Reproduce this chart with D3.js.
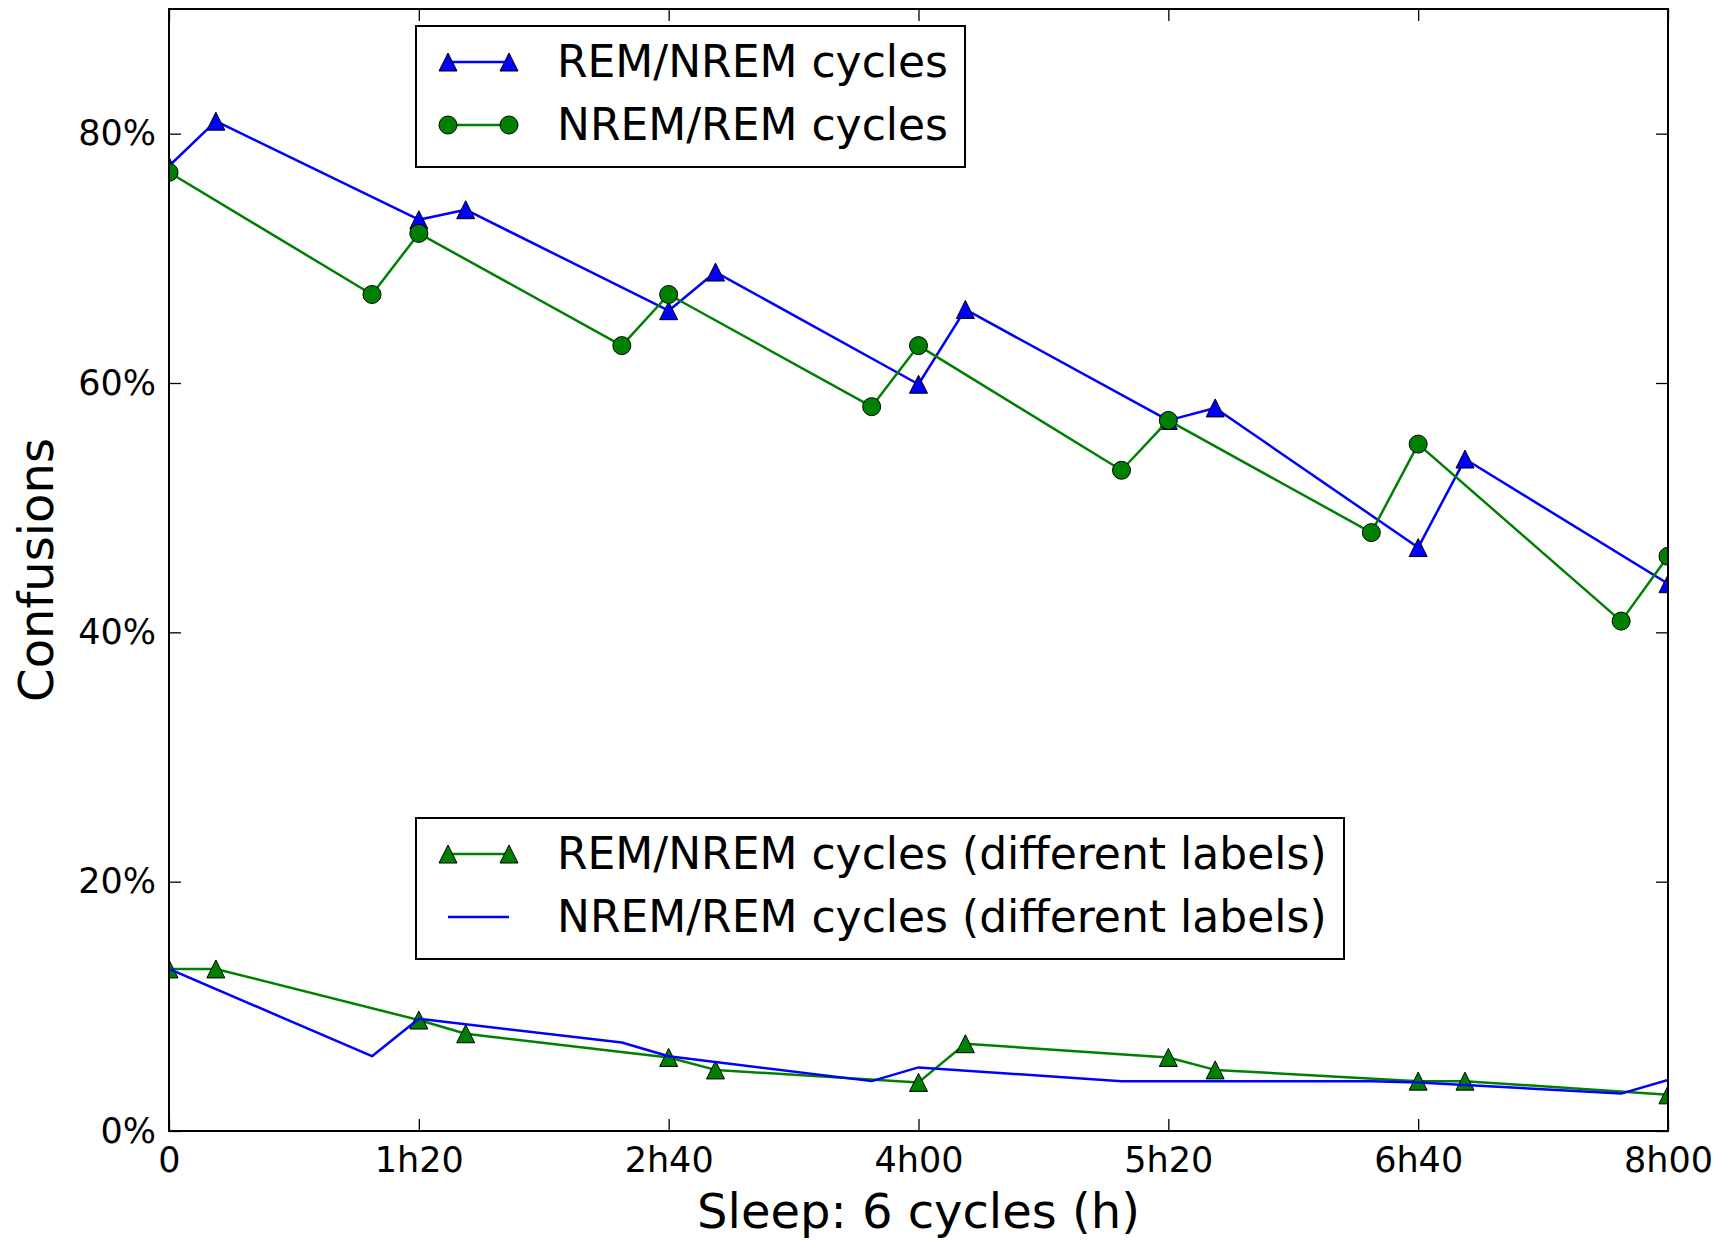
<!DOCTYPE html>
<html>
<head>
<meta charset="utf-8">
<script src="https://cdn.jsdelivr.net/npm/d3@7"></script>
<style>
    body { margin: 0; background: #fff; }
    text { font-family: "DejaVu Sans", sans-serif; fill: #000; }
</style>
</head>
<body>
<svg class="chart"></svg>
<script>
// minutes since sleep onset
var remTimes = [0, 15, 80, 95, 160, 175, 240, 255, 320, 335, 400, 415, 480];
var nremTimes = [0, 65, 80, 145, 160, 225, 240, 305, 320, 385, 400, 465, 480];

// confusions, percent
var remCycles = [77.4, 81, 73.1, 73.9, 65.8, 68.9, 59.9, 65.9, 57, 58, 46.8, 53.9, 43.9];
var nremCycles = [76.9, 67.1, 72, 63, 67.1, 58.1, 63, 53, 57, 48, 55.1, 40.9, 46.1];
var remCyclesDiff = [13, 13, 8.9, 7.8, 5.9, 4.9, 3.9, 7, 5.9, 4.9, 4, 4, 2.9];
var nremCyclesDiff = [13, 6, 9, 7.1, 6, 4, 5.1, 4, 4, 4, 3.9, 3, 4.1];

var xTicks = [0, 80, 160, 240, 320, 400, 480];
var xTickLabels = ["0", "1h20", "2h40", "4h00", "5h20", "6h40", "8h00"];
var yTicks = [0, 20, 40, 60, 80];

var blue = "#0000ff", green = "#008000";

var outerSize = {width: 1725, height: 1242};
var margin = {top: 9, right: 57, bottom: 111, left: 169};
var innerSize = {width: outerSize.width - margin.left - margin.right,
    height: outerSize.height - margin.top - margin.bottom};

var svg = d3.select(".chart")
        .attr("width", outerSize.width)
        .attr("height", outerSize.height);
var chart = svg.append("g")
        .attr("transform", "translate(" + margin.left + "," + margin.top + ")");

var xRange = d3.scaleLinear().domain([0, 480]).range([0, innerSize.width]);
var yRange = d3.scaleLinear().domain([0, 90]).range([innerSize.height, 0]);

chart.append("clipPath").attr("id", "plotClip")
        .append("rect")
        .attr("width", innerSize.width)
        .attr("height", innerSize.height);

// ticks pointing inward on all four sides
var tickLen = 12;
function styleAxis(g) {
    g.select(".domain").remove();
    g.selectAll(".tick line").attr("stroke", "#000").attr("stroke-width", 1.3);
    g.selectAll(".tick text").attr("font-size", 35).attr("fill", "#000")
            .attr("font-family", "DejaVu Sans");
}
chart.append("g")
        .attr("transform", "translate(0," + innerSize.height + ")")
        .call(d3.axisBottom(xRange).tickValues(xTicks)
                .tickFormat(function (d, i) { return xTickLabels[i]; })
                .tickSizeInner(-tickLen).tickSizeOuter(0).tickPadding(16))
        .call(styleAxis);
chart.append("g")
        .call(d3.axisTop(xRange).tickValues(xTicks).tickFormat("")
                .tickSizeInner(-tickLen).tickSizeOuter(0))
        .call(styleAxis);
chart.append("g")
        .call(d3.axisLeft(yRange).tickValues(yTicks)
                .tickFormat(function (d) { return d + "%"; })
                .tickSizeInner(-tickLen).tickSizeOuter(0).tickPadding(13))
        .call(styleAxis);
chart.append("g")
        .attr("transform", "translate(" + innerSize.width + ",0)")
        .call(d3.axisRight(yRange).tickValues(yTicks).tickFormat("")
                .tickSizeInner(-tickLen).tickSizeOuter(0))
        .call(styleAxis);

chart.append("text")
        .attr("x", innerSize.width / 2)
        .attr("y", innerSize.height + 97)
        .attr("text-anchor", "middle")
        .attr("font-size", 48)
        .text("Sleep: 6 cycles (h)");
chart.append("text")
        .attr("transform", "rotate(-90)")
        .attr("x", -innerSize.height / 2)
        .attr("y", -margin.left + 53)
        .attr("text-anchor", "middle")
        .attr("font-size", 48)
        .text("Confusions");

function makeSeries(times, values) {
    return times.map(function (t, i) { return {t: t, v: values[i]}; });
}

var series = [
    {data: makeSeries(remTimes, remCycles), color: blue, marker: "triangle"},
    {data: makeSeries(nremTimes, nremCycles), color: green, marker: "circle"},
    {data: makeSeries(remTimes, remCyclesDiff), color: green, marker: "triangle"},
    {data: makeSeries(nremTimes, nremCyclesDiff), color: blue, marker: "none"}
];

var line = d3.line()
        .x(function (d) { return xRange(d.t); })
        .y(function (d) { return yRange(d.v); });

var plot = chart.append("g").attr("clip-path", "url(#plotClip)");

function drawMarker(g, kind, color, x, y) {
    if (kind === "triangle") {
        g.append("path")
                .attr("d", "M0,-9L9,9L-9,9Z")
                .attr("transform", "translate(" + x + "," + y + ")")
                .attr("fill", color)
                .attr("stroke", "#000")
                .attr("stroke-width", 1);
    } else if (kind === "circle") {
        g.append("circle")
                .attr("cx", x).attr("cy", y).attr("r", 9)
                .attr("fill", color)
                .attr("stroke", "#000")
                .attr("stroke-width", 1);
    }
}

series.forEach(function (s) {
    var g = plot.append("g");
    g.append("path")
            .datum(s.data)
            .attr("d", line)
            .attr("fill", "none")
            .attr("stroke", s.color)
            .attr("stroke-width", 2.5)
            .attr("stroke-linejoin", "round");
    s.data.forEach(function (d) {
        drawMarker(g, s.marker, s.color, xRange(d.t), yRange(d.v));
    });
});

// frame
chart.append("rect")
        .attr("width", innerSize.width)
        .attr("height", innerSize.height)
        .attr("fill", "none")
        .attr("stroke", "#000")
        .attr("stroke-width", 2);

// legends
function drawLegend(x, y, w, entries) {
    var g = svg.append("g").attr("transform", "translate(" + x + "," + y + ")");
    g.append("rect")
            .attr("width", w).attr("height", 141)
            .attr("fill", "#fff")
            .attr("stroke", "#000")
            .attr("stroke-width", 2);
    entries.forEach(function (e, i) {
        var cy = 36 + i * 63;
        g.append("line")
                .attr("x1", 32).attr("x2", 93)
                .attr("y1", cy).attr("y2", cy)
                .attr("stroke", e.color).attr("stroke-width", 2.5);
        drawMarker(g, e.marker, e.color, 32, cy);
        drawMarker(g, e.marker, e.color, 93, cy);
        g.append("text")
                .attr("x", 141).attr("y", cy + 15)
                .attr("font-size", 44)
                .text(e.label);
    });
}

drawLegend(416, 26, 549, [
    {label: "REM/NREM cycles", color: blue, marker: "triangle"},
    {label: "NREM/REM cycles", color: green, marker: "circle"}
]);
drawLegend(416, 818, 928, [
    {label: "REM/NREM cycles (different labels)", color: green, marker: "triangle"},
    {label: "NREM/REM cycles (different labels)", color: blue, marker: "none"}
]);
</script>
</body>
</html>
